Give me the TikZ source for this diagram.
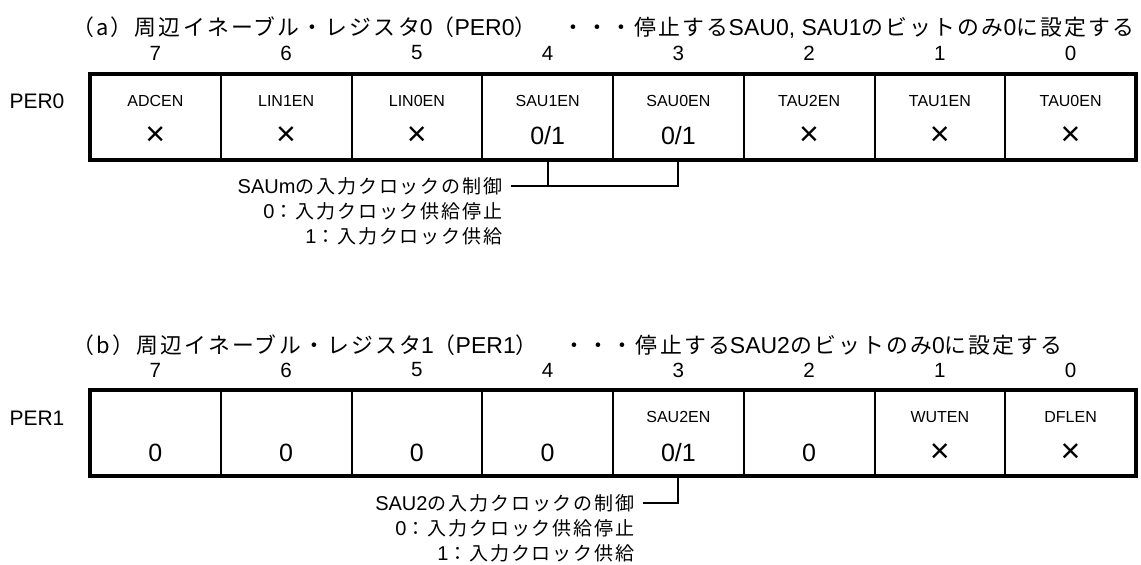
\documentclass[tikz,border=0pt]{standalone}
\usepackage{fontspec}
\setmainfont{Liberation Sans}
\newfontfamily\jpfont[Scale=0.95,LetterSpace=10]{Noto Sans CJK JP}
\newcommand{\J}[1]{{\jpfont #1}}
\newcommand{\cross}{{\fontsize{17}{17}\selectfont ×}}
\usetikzlibrary{calc,positioning}

\begin{document}
\begin{tikzpicture}[x=0.5pt,y=-0.5pt,
  cell/.style={draw,line width=1pt,minimum width=65.375pt,minimum height=43pt,inner sep=0pt,outer sep=0pt},
  fname/.style={font=\fontsize{8}{9}\selectfont,inner sep=0pt},
  fval/.style={font=\fontsize{12.5}{14}\selectfont,inner sep=0pt},
  bitno/.style={font=\fontsize{10.3}{12}\selectfont,inner sep=0pt},
  regname/.style={font=\fontsize{10.5}{12}\selectfont,inner sep=0pt},
  ttl/.style={font=\fontsize{11.5}{13}\selectfont,inner sep=0pt,anchor=west},
  note/.style={font=\fontsize{10}{12}\selectfont,inner sep=0pt,anchor=east},
  brk/.style={line width=1pt}]
  \useasboundingbox (0,0) rectangle (1141,565);

  % (a) PER0
  \node[ttl] (ta) at (72,28) {\J{（a）周辺イネーブル・レジスタ}0\J{（}PER0\J{）　・・・停止する}SAU0, SAU1\J{のビットのみ}0\J{に設定する}};
  \foreach \nm/\v [count=\k from 0] in {ADCEN/\cross,LIN1EN/\cross,LIN0EN/\cross,SAU1EN/{0/1},SAU0EN/{0/1},TAU2EN/\cross,TAU1EN/\cross,TAU0EN/\cross}{
    \node[cell] (a\k) at (90+130.75*\k+65.375,117) {};
    \node[fname] (an\k) at ($(a\k)+(0,-16)$) {\nm};
    \node[fval] (av\k) at ($(a\k)+(0,19)$) {\v};
    \node[bitno] (ab\k) at ($(a\k)+(0,-64)$) {\the\numexpr7-\k\relax};
  }
  \draw[line width=2.3pt] (a0.north west) rectangle (a7.south east);
  \node[regname] (pa) at (37,101) {PER0};
  \node[note] (ca) at (503,186) {SAUm\J{の入力クロックの制御}};
  \node[note] (ca0) at (503,211) {0\J{：入力クロック供給停止}};
  \node[note] (ca1) at (503,236) {1\J{：入力クロック供給}};
  % bracket to SAU1EN / SAU0EN
  \coordinate (ka) at ($(ca.east)+(8,0)$);
  \draw[brk] (ka) -| (a4.south);
  \draw[brk] (a3.south) -- (a3.south |- ka);

  % (b) PER1
  \node[ttl] (tb) at (72,345) {\J{（b）周辺イネーブル・レジスタ}1\J{（}PER1\J{）　・・・停止する}SAU2\J{のビットのみ}0\J{に設定する}};
  \foreach \nm/\v [count=\k from 0] in {{}/0,{}/0,{}/0,{}/0,SAU2EN/{0/1},{}/0,WUTEN/\cross,DFLEN/\cross}{
    \node[cell] (b\k) at (90+130.75*\k+65.375,433) {};
    \node[fname] (bn\k) at ($(b\k)+(0,-16)$) {\nm};
    \node[fval] (bv\k) at ($(b\k)+(0,20)$) {\v};
    \node[bitno] (bb\k) at ($(b\k)+(0,-63)$) {\the\numexpr7-\k\relax};
  }
  \draw[line width=2.3pt] (b0.north west) rectangle (b7.south east);
  \node[regname] (pb) at (37,418) {PER1};
  \node[note] (cb) at (635,503) {SAU2\J{の入力クロックの制御}};
  \node[note] (cb0) at (635,528) {0\J{：入力クロック供給停止}};
  \node[note] (cb1) at (635,553) {1\J{：入力クロック供給}};
  % bracket to SAU2EN
  \coordinate (kb) at ($(cb.east)+(8,0)$);
  \draw[brk] (kb) -| (b4.south);
\end{tikzpicture}
\end{document}
